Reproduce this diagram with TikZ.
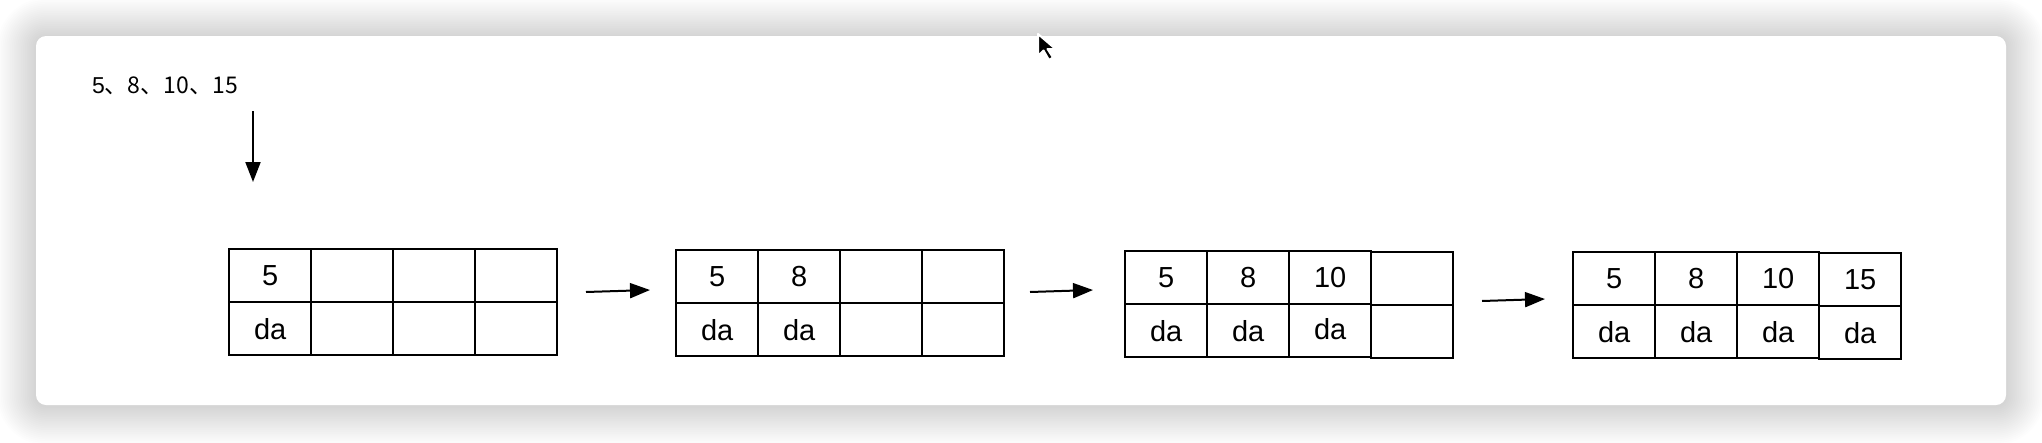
\documentclass[tikz,border=0pt]{standalone}
\usepackage{fontspec}
\setmainfont{Liberation Sans}
\newfontfamily\cjk{Noto Sans CJK SC}
\usetikzlibrary{arrows.meta}
\begin{document}
\begin{tikzpicture}[x=1pt,y=-1pt,
  cell/.style={draw=black, line width=2.4pt, minimum width=82pt, minimum height=53pt,
    inner sep=0pt, anchor=north west, font=\fontsize{29}{33}\selectfont},
  flow/.style={line width=2pt, -{Triangle[length=20pt,width=15pt]}},
  card/.style={fill=white, rounded corners=10pt},
  shade/.style={fill=black, opacity=0.0095}]
\useasboundingbox (0,0) rectangle (2042,442);
\fill[white] (0,0) rectangle (2042,442);
% window shadow
\foreach \k [evaluate=\k as \d using 1.85*\k, evaluate=\k as \r using 10+1.85*\k] in {1,...,21}{
  \path[shade, rounded corners=\r pt] (36-\d,37-\d) rectangle (2006+\d,406+\d);
}
% card
\path[card] (36,36) rectangle (2006,405);
% cursor
\filldraw[fill=black, draw=white, line width=2pt, line join=round]
  (1038,34) -- ++(0,22) -- ++(5.5,-5.5) -- ++(5.5,9.5) -- ++(4,-2.5) -- ++(-5.5,-8.5) -- ++(8,0) -- cycle;
% input label and arrow
\node (lbl) at (165,86) {\fontsize{23}{26}\selectfont 5\cjk{、}8\cjk{、}10\cjk{、}15};
\coordinate (in0) at (253,111);
\coordinate (in1) at (253,182);
\draw[flow] (in0) -- (in1);
% box 1
\node[cell] (b1t1) at (228,248) {5};
\node[cell] (b1t2) at (310,248) {};
\node[cell] (b1t3) at (392,248) {};
\node[cell] (b1t4) at (474,248) {};
\node[cell] (b1b1) at (228,301) {da};
\node[cell] (b1b2) at (310,301) {};
\node[cell] (b1b3) at (392,301) {};
\node[cell] (b1b4) at (474,301) {};
% box 2
\node[cell] (b2t1) at (675,249) {5};
\node[cell] (b2t2) at (757,249) {8};
\node[cell] (b2t3) at (839,249) {};
\node[cell] (b2t4) at (921,249) {};
\node[cell] (b2b1) at (675,302) {da};
\node[cell] (b2b2) at (757,302) {da};
\node[cell] (b2b3) at (839,302) {};
\node[cell] (b2b4) at (921,302) {};
% box 3
\node[cell] (b3t1) at (1124,250) {5};
\node[cell] (b3t2) at (1206,250) {8};
\node[cell] (b3t3) at (1288,250) {10};
\node[cell] (b3t4) at (1370,251) {};
\node[cell] (b3b1) at (1124,303) {da};
\node[cell] (b3b2) at (1206,303) {da};
\node[cell] (b3b3) at (1288,303) {\raisebox{4pt}{da}};
\node[cell] (b3b4) at (1370,304) {};
% box 4
\node[cell] (b4t1) at (1572,251) {5};
\node[cell] (b4t2) at (1654,251) {8};
\node[cell] (b4t3) at (1736,251) {10};
\node[cell] (b4t4) at (1818,252) {15};
\node[cell] (b4b1) at (1572,304) {da};
\node[cell] (b4b2) at (1654,304) {da};
\node[cell] (b4b3) at (1736,304) {da};
\node[cell] (b4b4) at (1818,305) {da};
% transition arrows
\coordinate (a1s) at (586,292); \coordinate (a1e) at (650,290);
\coordinate (a2s) at (1030,292); \coordinate (a2e) at (1093,290);
\coordinate (a3s) at (1482,301); \coordinate (a3e) at (1545,299);
\draw[flow] (a1s) -- (a1e);
\draw[flow] (a2s) -- (a2e);
\draw[flow] (a3s) -- (a3e);
\end{tikzpicture}
\end{document}
